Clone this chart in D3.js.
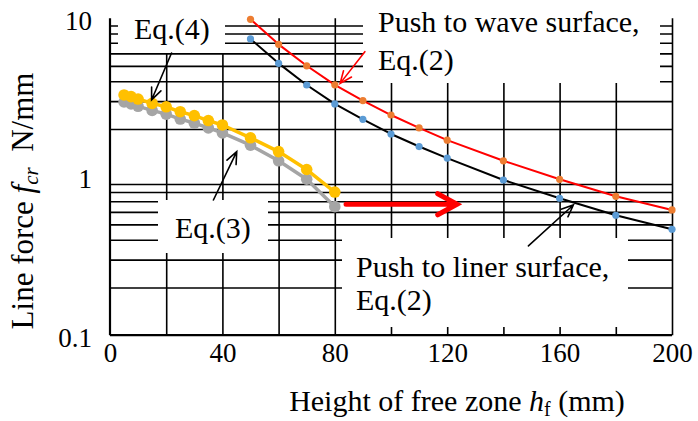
<!DOCTYPE html>
<html>
<head>
<meta charset="utf-8">
<script src="https://cdn.jsdelivr.net/npm/d3@7"></script>
<style>
  body { margin: 0; background: #fff; }
  svg { display: block; font-family: "Liberation Serif", "Times New Roman", serif; }
</style>
</head>
<body>
<svg id="chart" width="698" height="421"></svg>
<script>
// free zone heights (mm)
const hfSmall = [5, 7.5, 10, 15, 20, 25, 30, 35, 40, 50, 60, 70, 80];
const eq4 = [3.28, 3.20, 3.09, 2.90, 2.76, 2.57, 2.43, 2.26, 2.12, 1.76, 1.44, 1.11, 0.80];
const eq3 = [2.96, 2.88, 2.78, 2.62, 2.48, 2.31, 2.18, 2.03, 1.89, 1.58, 1.26, 0.964, 0.647];

const hfLarge = [50, 60, 70, 80, 90, 100, 110, 120, 140, 160, 180, 200];
const waveSurface = [9.84, 6.84, 5.01, 3.80, 3.02, 2.45, 2.03, 1.70, 1.26, 0.963, 0.752, 0.617];
const linerSurface = [7.4, 5.19, 3.79, 2.88, 2.30, 1.86, 1.55, 1.31, 0.953, 0.731, 0.571, 0.466];

const xTicks = [0, 40, 80, 120, 160, 200];
const xGrid = [20, 40, 60, 80, 100, 120, 140, 160, 180, 200];
const yTicks = [0.1, 1, 10];
const yGrid = [0.2, 0.3, 0.4, 0.5, 0.6, 0.7, 0.8, 0.9, 2, 3, 4, 5, 6, 7, 8, 9];

const plotLeft = 110, plotRight = 672, plotTop = 18.2, plotBottom = 335.2;

const svg = d3.select("#chart");

const x = d3.scaleLinear().domain([0, 200]).range([plotLeft, plotRight]);
const y = d3.scaleLog().domain([0.1, 10]).range([plotBottom, plotTop]);

// grid lines
svg.append("g")
    .attr("transform", `translate(0, ${plotBottom})`)
    .call(d3.axisBottom(x).tickValues(xGrid).tickSize(-(plotBottom - plotTop)).tickFormat(""))
    .call(g => g.select(".domain").remove())
    .selectAll("line").attr("stroke", "#000").attr("stroke-width", 1.6);

svg.append("g")
    .attr("transform", `translate(${plotLeft}, 0)`)
    .call(d3.axisLeft(y).tickValues(yGrid).tickSize(-(plotRight - plotLeft)).tickFormat(""))
    .call(g => g.select(".domain").remove())
    .selectAll("line").attr("stroke", "#000").attr("stroke-width", 1.6);

// axis lines
svg.append("line").attr("x1", plotLeft).attr("x2", plotLeft).attr("y1", plotTop).attr("y2", plotBottom)
    .attr("stroke", "#000").attr("stroke-width", 2.2);
svg.append("line").attr("x1", plotLeft).attr("x2", plotRight).attr("y1", plotBottom).attr("y2", plotBottom)
    .attr("stroke", "#000").attr("stroke-width", 2.2);

// tick labels
svg.append("g")
    .attr("transform", `translate(0, ${plotBottom})`)
    .call(d3.axisBottom(x).tickValues(xTicks).tickSize(0).tickPadding(0))
    .call(g => g.select(".domain").remove())
    .selectAll("text")
    .attr("y", 27).attr("dy", 0)
    .attr("font-family", "Liberation Serif").attr("font-size", 27).attr("fill", "#000");

svg.append("g")
    .attr("transform", `translate(92, 0)`)
    .call(d3.axisLeft(y).tickValues(yTicks).tickSize(0).tickPadding(0).tickFormat(d => d))
    .call(g => g.select(".domain").remove())
    .selectAll("text")
    .attr("x", 0).attr("dy", "0.4em")
    .attr("font-family", "Liberation Serif").attr("font-size", 27).attr("fill", "#000");

// white label boxes
const boxes = [
    { x: 118, y: 0, w: 107, h: 53 },
    { x: 158, y: 200, w: 110, h: 53 },
    { x: 363, y: 0, w: 297, h: 83 },
    { x: 342, y: 238, w: 286, h: 89 }
];
svg.append("g").selectAll("rect").data(boxes).enter().append("rect")
    .attr("x", d => d.x).attr("y", d => d.y).attr("width", d => d.w).attr("height", d => d.h)
    .attr("fill", "#fff");

// series
const line = d3.line().x(d => x(d[0])).y(d => y(d[1]));

function drawSeries(xs, ys, lineColor, lineWidth, dotColor, r) {
    const pts = xs.map((v, i) => [v, ys[i]]);
    svg.append("path").datum(pts).attr("d", line)
        .attr("fill", "none").attr("stroke", lineColor).attr("stroke-width", lineWidth)
        .attr("stroke-linejoin", "round");
    svg.append("g").selectAll("circle").data(pts).enter().append("circle")
        .attr("cx", d => x(d[0])).attr("cy", d => y(d[1])).attr("r", r)
        .attr("fill", dotColor);
}

drawSeries(hfSmall, eq3, "#A5A5A5", 3.5, "#A5A5A5", 5.8);
drawSeries(hfSmall, eq4, "#FFC000", 3.5, "#FFC000", 5.8);
drawSeries(hfLarge, waveSurface, "#FF0000", 2, "#ED7D31", 3.6);
drawSeries(hfLarge, linerSurface, "#000000", 2, "#5B9BD5", 3.6);

// annotation arrows (in data units)
function arrow(x0, y0, x1, y1, color, width, headLen, headAng) {
    const px0 = x(x0), py0 = y(y0), px1 = x(x1), py1 = y(y1);
    const a = Math.atan2(py1 - py0, px1 - px0);
    const h1 = [px1 - headLen * Math.cos(a - headAng), py1 - headLen * Math.sin(a - headAng)];
    const h2 = [px1 - headLen * Math.cos(a + headAng), py1 - headLen * Math.sin(a + headAng)];
    svg.append("path")
        .attr("d", `M${px0},${py0}L${px1},${py1}M${h1[0]},${h1[1]}L${px1},${py1}L${h2[0]},${h2[1]}`)
        .attr("fill", "none").attr("stroke", color).attr("stroke-width", width)
        .attr("stroke-linecap", "round").attr("stroke-linejoin", "miter");
}

arrow(21.9, 6.03, 14.8, 3.05, "#000", 1.6, 13, 0.4);
arrow(36.8, 0.713, 45.1, 1.44, "#000", 1.6, 13, 0.4);
arrow(90.7, 6.15, 81.9, 3.88, "#FF0000", 1.6, 13, 0.4);
arrow(148.9, 0.366, 164.9, 0.663, "#000", 1.6, 13, 0.4);
arrow(84, 0.67, 123.5, 0.67, "#FF0000", 5, 22, 0.5);

// annotation texts
function label(lines, x0, y0, dyLine) {
    const t = svg.append("text").attr("font-size", 30).attr("fill", "#000");
    lines.forEach((s, i) => {
        t.append("tspan").attr("x", x0).attr("y", y0 + i * dyLine).text(s);
    });
}
label(["Eq.(4)"], 134, 39, 0);
label(["Eq.(3)"], 175, 238, 0);
label(["Push to wave surface,", "Eq.(2)"], 378, 31.5, 38);
label(["Push to liner surface,", "Eq.(2)"], 356, 276.5, 33);

// axis titles
const xt = svg.append("text").attr("x", 457).attr("y", 411).attr("text-anchor", "middle")
    .attr("font-size", 30).attr("fill", "#000");
xt.append("tspan").text("Height of free zone ");
xt.append("tspan").attr("font-style", "italic").text("h");
xt.append("tspan").attr("font-size", 20).attr("dy", 5).text("f");
xt.append("tspan").attr("dy", -5).text(" (mm)");

const yt = svg.append("text").attr("transform", "translate(33, 201) rotate(-90)")
    .attr("text-anchor", "middle").attr("font-size", 31).attr("fill", "#000");
yt.append("tspan").text("Line force ");
yt.append("tspan").attr("font-style", "italic").text("f");
yt.append("tspan").attr("font-style", "italic").attr("font-size", 21).attr("dy", 5).text("cr");
yt.append("tspan").attr("dy", -5).text("\u00a0 N/mm");
</script>
</body>
</html>
